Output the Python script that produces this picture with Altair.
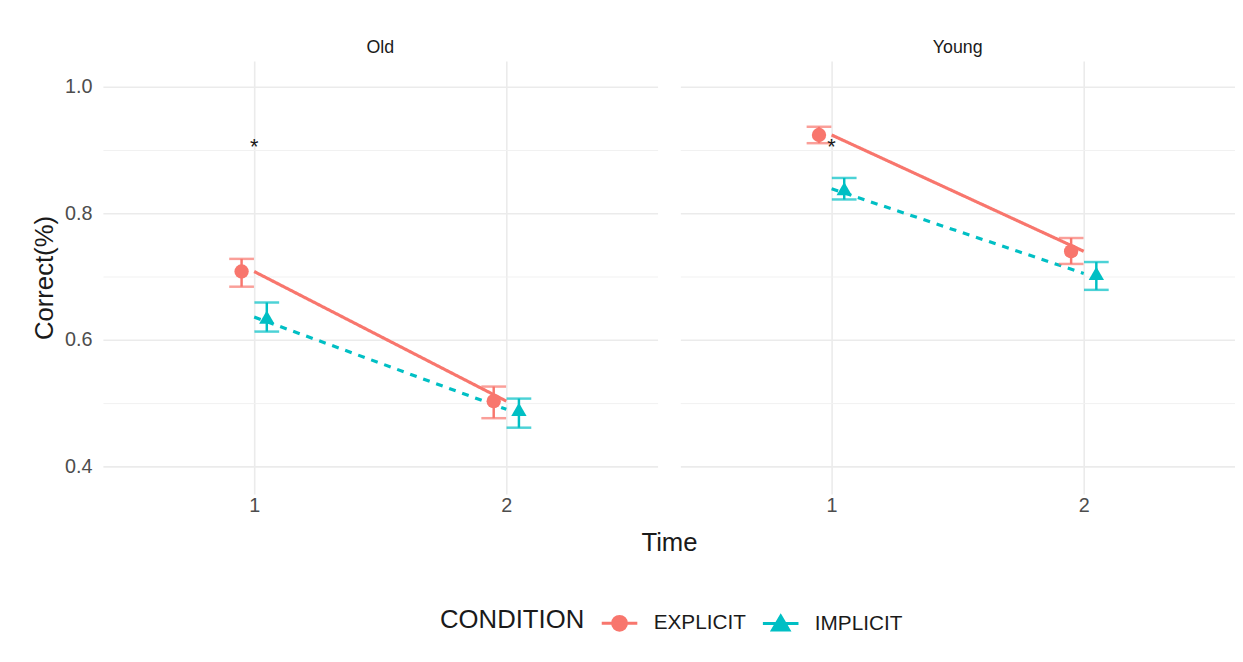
import altair as alt
import pandas as pd

# ---- data ----
groups = ["Old", "Old", "Old", "Old", "Young", "Young", "Young", "Young"]
times = [1, 1, 2, 2, 1, 1, 2, 2]
conditions = ["EXPLICIT", "IMPLICIT", "EXPLICIT", "IMPLICIT",
              "EXPLICIT", "IMPLICIT", "EXPLICIT", "IMPLICIT"]
means = [0.708, 0.636, 0.503, 0.490, 0.924, 0.839, 0.740, 0.705]
lows = [0.684, 0.613, 0.476, 0.461, 0.911, 0.822, 0.720, 0.679]
highs = [0.728, 0.659, 0.526, 0.507, 0.937, 0.856, 0.761, 0.723]

star_groups = ["Old", "Young"]
star_times = [1, 1]
star_values = [0.905, 0.905]

cond_levels = ["EXPLICIT", "IMPLICIT"]
cond_colors = ["#F8766D", "#00BFC4"]
panel_order = ["Old", "Young"]
y_ticks = [0.4, 0.5, 0.6, 0.7, 0.8, 0.9, 1.0]
x_ticks = [1, 2]

rows = []
for g, t, c, m, lo, hi in zip(groups, times, conditions, means, lows, highs):
    rows.append({"kind": "pt", "Group": g, "Time": t, "CONDITION": c,
                 "mean": m, "lo": lo, "hi": hi})
for g, t, v in zip(star_groups, star_times, star_values):
    rows.append({"kind": "star", "Group": g, "Time": t, "CONDITION": None,
                 "mean": v, "lo": None, "hi": None})
df = pd.DataFrame(rows)

FONT = "Liberation Sans"
x_scale = alt.Scale(domain=[0.4, 2.6], nice=False, zero=False)
y_scale = alt.Scale(domain=[0.356, 1.041], nice=False, zero=False)
# visible marks: same mapping, listed in reverse order so that their
# (hidden) legends do not merge with the custom legend below
mark_color_scale = alt.Scale(domain=cond_levels[::-1], range=cond_colors[::-1])
legend_color_scale = alt.Scale(domain=cond_levels, range=cond_colors)

x_axis = alt.Axis(values=x_ticks, format="d", title=None, labelPadding=2,
                  gridWidth=1.6)
y_axis = alt.Axis(
    values=y_ticks, title="Correct(%)",
    labelExpr="round(datum.value*10) % 2 == 0 ? format(datum.value, '.1f') : ''",
    gridWidth={"condition": {"test": "round(datum.value*10) % 2 == 1", "value": 1.0},
               "value": 1.6},
    gridColor={"condition": {"test": "round(datum.value*10) % 2 == 1", "value": "#F1F1F1"},
               "value": "#EBEBEB"},
    labelPadding=11, titlePadding=7,
)


def X(field):
    return alt.X(field, type="quantitative", scale=x_scale, axis=x_axis)


def Y(field):
    return alt.Y(field, type="quantitative", scale=y_scale, axis=y_axis)


color = alt.Color("CONDITION:N", scale=mark_color_scale, legend=None)
dodge = "datum.Time + (datum.CONDITION == 'EXPLICIT' ? -0.05 : 0.05)"

lines = alt.Chart().mark_line(strokeWidth=3.2).encode(
    x=X("Time"), y=Y("mean"), color=color,
    strokeDash=alt.StrokeDash("CONDITION:N",
                              scale=alt.Scale(domain=cond_levels[::-1], range=[[7, 7], [1, 0]]),
                              legend=None),
).transform_filter("datum.kind == 'pt'")

bars = alt.Chart().mark_rule(strokeWidth=2.5).encode(
    x=X("xd"), y=Y("lo"), y2="hi", color=color,
).transform_filter("datum.kind == 'pt'").transform_calculate(xd=dodge)

cap_lo = alt.Chart().mark_tick(orient="horizontal", size=25, thickness=2.5).encode(
    x=X("xd"), y=Y("lo"), color=color,
).transform_filter("datum.kind == 'pt'").transform_calculate(xd=dodge)

cap_hi = alt.Chart().mark_tick(orient="horizontal", size=25, thickness=2.5).encode(
    x=X("xd"), y=Y("hi"), color=color,
).transform_filter("datum.kind == 'pt'").transform_calculate(xd=dodge)

circles = alt.Chart().mark_point(shape="circle", filled=True, size=210, opacity=1).encode(
    x=X("xd"), y=Y("mean"), color=color,
).transform_filter("datum.kind == 'pt' && datum.CONDITION == 'EXPLICIT'").transform_calculate(xd=dodge)

triangles = alt.Chart().mark_point(shape="triangle-up", filled=True, size=240, opacity=1).encode(
    x=X("xd"), y=Y("mean"), color=color,
).transform_filter("datum.kind == 'pt' && datum.CONDITION == 'IMPLICIT'").transform_calculate(xd=dodge)

stars = alt.Chart().mark_text(text="*", fontSize=22, font=FONT, color="#1A1A1A",
                              baseline="middle").encode(
    x=X("Time"), y=Y("mean"),
).transform_filter("datum.kind == 'star'")

sym_explicit = ("M-1,0H1M-0.39,0A0.39,0.39,0,1,0,0.39,0A0.39,0.39,0,1,0,-0.39,0Z")
sym_implicit = ("M-1,0H1M0,-0.42L0.46,0.36L-0.46,0.36Z")

legend_def = alt.Legend(
    title="CONDITION", orient="none", legendX=341, legendY=549,
    direction="horizontal", titleOrient="left",
    titleFontSize=26, titleFontWeight="normal", titleColor="#1A1A1A",
    titleFont=FONT, titlePadding=16,
    labelFontSize=21, labelColor="#1A1A1A", labelFont=FONT,
    labelOffset=15, columnPadding=10,
    symbolSize=1296, symbolStrokeWidth=3, symbolOpacity=1,
)

legend_layer = alt.Chart().mark_point(filled=True, opacity=0, strokeWidth=3).encode(
    x=X("xd"), y=Y("mean"),
    shape=alt.Shape("CONDITION:N",
                    scale=alt.Scale(domain=cond_levels, range=[sym_explicit, sym_implicit]),
                    legend=legend_def),
    fill=alt.Fill("CONDITION:N", scale=legend_color_scale, legend=legend_def),
    stroke=alt.Stroke("CONDITION:N", scale=legend_color_scale, legend=legend_def),
).transform_filter("datum.kind == 'pt'").transform_calculate(xd=dodge)

panel = alt.layer(lines, bars, cap_lo, cap_hi, circles, triangles, stars, legend_layer,
                  data=df).properties(width=561, height=438)

chart = panel.facet(
    column=alt.Column(
        "Group:N", sort=panel_order,
        header=alt.Header(
            title="Time", titleOrient="bottom", labelOrient="top",
            labelFontSize=18, labelColor="#1A1A1A", labelFont=FONT, labelPadding=4,
            titleFontSize=26, titleFontWeight="normal", titleColor="#1A1A1A",
            titleFont=FONT, titlePadding=5,
        ),
    ),
    spacing=23,
).properties(
    padding={"left": 24, "top": 28, "right": 0, "bottom": 0},
).configure_view(stroke=None).configure_axis(
    domain=False, ticks=False, gridColor="#EBEBEB",
    labelFont=FONT, labelFontSize=20, labelColor="#4D4D4D",
    titleFont=FONT, titleFontSize=26, titleFontWeight="normal", titleColor="#1A1A1A",
)

chart.save("out.html", embed_options={"renderer": "svg", "actions": False})
